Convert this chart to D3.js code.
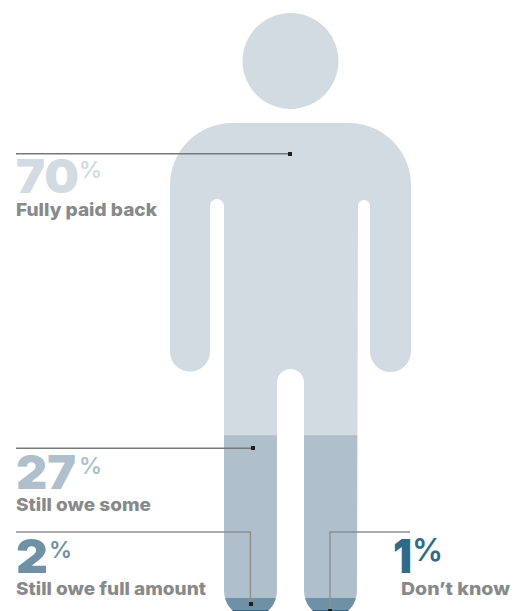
<!DOCTYPE html>
<html><head><meta charset="utf-8">
<script src="https://cdn.jsdelivr.net/npm/d3@7"></script>
<style>html,body{margin:0;padding:0;background:#fff}svg{display:block}text{font-family:Inter,"Open Sans",sans-serif}</style>
</head><body><div id="c"></div>
<script>
const categories=["Fully paid back","Still owe some","Still owe full amount","Don\u2019t know"];
const percents=[70,27,2,1];
const bandColors=["#d3dbe2","#afbfcc","#6f91a6","#316a87"];
const numberColors=["#d3dbe2","#afbfcc","#6f91a6","#316a87"];
const W=528,H=611;
const svg=d3.select("#c").append("svg").attr("width",W).attr("height",H);
const y=d3.scaleLinear().domain([0,100]).range([13,616]);
let cum=0;
const bands=percents.map((v,i)=>{const b={i,start:cum,end:cum+v};cum+=v;return b;});

// figure silhouette
const topY=123,l=170,r=411,legL=224,legLi=277,legRi=304,legR=357,armBot=372,gapTop=199,crotch=369,bot=617.5;
const figure=d3.path();
figure.moveTo(l+62,topY);figure.lineTo(r-62,topY);
figure.arcTo(r,topY,r,topY+62,62);
figure.lineTo(r,armBot-20.5);figure.arc(r-20.5,armBot-20.5,20.5,0,Math.PI);
figure.lineTo(r-41,gapTop+7);figure.arc(r-47,gapTop+7,6,0,Math.PI,true);
figure.lineTo(legR,bot-26.5);figure.arc(legR-26.5,bot-26.5,26.5,0,Math.PI);
figure.lineTo(legRi,crotch+13.5);figure.arc(290.5,crotch+13.5,13.5,0,Math.PI,true);
figure.lineTo(legLi,bot-26.5);figure.arc(legL+26.5,bot-26.5,26.5,0,Math.PI);
figure.lineTo(legL,gapTop+7);figure.arc(legL-7,gapTop+7,7,0,Math.PI,true);
figure.lineTo(l+40,armBot-20.5);figure.arc(l+20,armBot-20.5,20,0,Math.PI);
figure.lineTo(l,topY+62);figure.arcTo(l,topY,l+62,topY,62);figure.closePath();
figure.moveTo(338.5,61);figure.arc(290.5,61,48,0,2*Math.PI);figure.closePath();

svg.append("clipPath").attr("id","fig").append("path").attr("d",figure.toString());
svg.append("g").attr("clip-path","url(#fig)").selectAll("rect").data(bands).join("rect")
 .attr("x",0).attr("width",W).attr("y",d=>y(d.start)).attr("height",d=>y(d.end)-y(d.start))
 .attr("fill",d=>bandColors[d.i]);

// leaders
const leaders=[
 {pts:[[16,153.8],[290,153.8]],dot:[290,154],c:"#77787a"},
 {pts:[[16,448.2],[253,448.2]],dot:[253,448],c:"#77787a"},
 {pts:[[16,532],[250.4,532],[250.4,604]],dot:[251,604],c:"#8e8f91"},
 {pts:[[410,532],[330,532],[330,612]],dot:[330,611],c:"#8e8f91"}];
leaders.forEach(o=>{
 svg.append("path").attr("d",d3.line()(o.pts)).attr("fill","none").attr("stroke",o.c).attr("stroke-width",1.4);
 svg.append("rect").attr("x",o.dot[0]-2).attr("y",o.dot[1]-2).attr("width",4).attr("height",4).attr("fill","#1f1f22");
});

// labels
const layout=[
 {x:16,numY:193,numW:63,pctX:79,pctY:178,labX:16,labY:216,size:47,pct:23,w:141},
 {x:16,numY:489,numW:60,pctX:79,pctY:474,labX:16,labY:511,size:47,pct:23,w:135},
 {x:16,numY:573,numW:32,pctX:49,pctY:558,labX:16,labY:595,size:47,pct:23,w:190},
 {x:393,numY:573,numW:19,pctX:412,pctY:561,labX:401,labY:595,size:47,pct:31,w:109}];
percents.forEach((v,i)=>{
 const p=layout[i];
 svg.append("text").attr("x",p.x).attr("y",p.numY).attr("font-size",p.size).attr("font-weight",900).attr("fill",numberColors[i]).attr("textLength",p.numW).attr("lengthAdjust","spacingAndGlyphs").text(v);
 svg.append("text").attr("x",p.pctX).attr("y",p.pctY).attr("font-size",p.pct).attr("font-weight",600).attr("fill",numberColors[i]).text("%");
 svg.append("text").attr("x",p.labX).attr("y",p.labY).attr("font-size",18).attr("font-weight",800).attr("fill","#88898b").attr("textLength",p.w).attr("lengthAdjust","spacingAndGlyphs").text(categories[i]);
});
</script></body></html>
